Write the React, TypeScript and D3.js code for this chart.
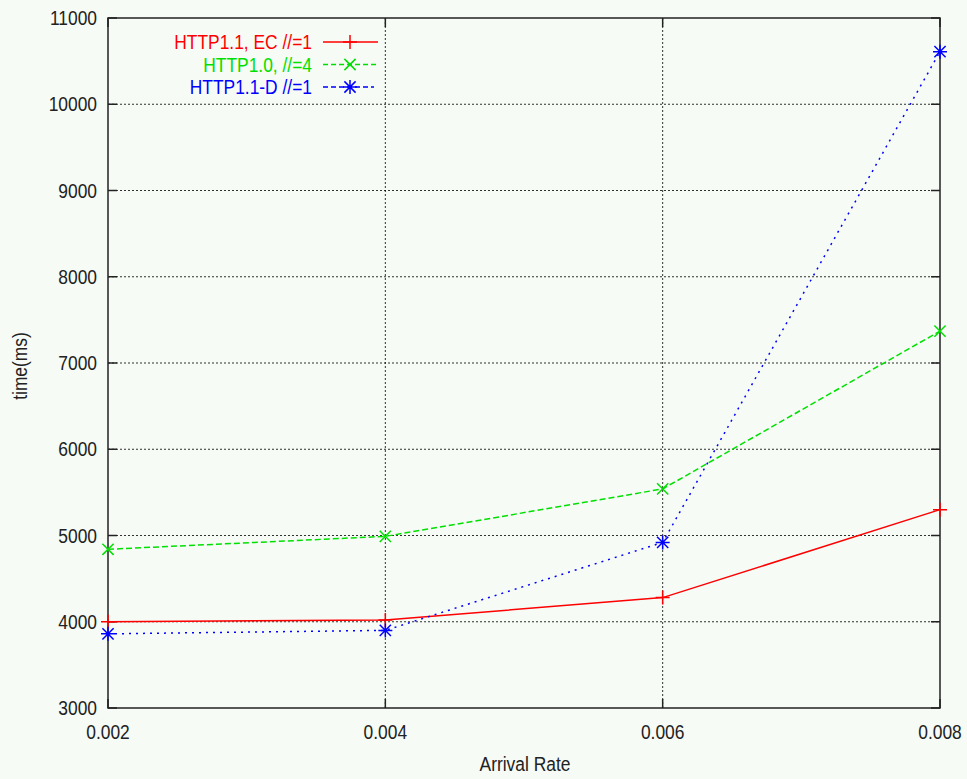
import React from "react";
import * as d3 from "d3";

const rates = [0.002, 0.004, 0.006, 0.008];
const http11ec = [4000, 4020, 4280, 5300];
const http10 = [4840, 4990, 5540, 7370];
const http11d = [3860, 3900, 4920, 10610];
const yTicks = [3000, 4000, 5000, 6000, 7000, 8000, 9000, 10000, 11000];
const xTickLabels = ["0.002", "0.004", "0.006", "0.008"];

const series = [
  { name: "HTTP1.1, EC //=1", values: http11ec, color: "#ff0000", dash: "", marker: "plus" },
  { name: "HTTP1.0, //=4", values: http10, color: "#00e000", dash: "6,3", marker: "cross" },
  { name: "HTTP1.1-D //=1", values: http11d, color: "#0000ff", dash: "2,5", marker: "star" },
];

const W = 967, H = 779;
const left = 108, right = 940, top = 18, bottom = 708;
const font = "'Liberation Sans', Arial, sans-serif";
const FS = 20;
const SX = 0.87;

// narrow text, like the gnuplot bitmap font
const T = ({ x, y, anchor, color, children, rotate }: any) => (
  <text
    transform={`translate(${x},${y})${rotate ? ` rotate(${rotate})` : ""} scale(${SX},1)`}
    textAnchor={anchor}
    fontSize={FS}
    fill={color || "#222"}
  >
    {children}
  </text>
);

const Marker = ({ x, y, kind, color }: { x: number; y: number; kind: string; color: string }) => {
  const s = 7;
  const plus = `M${x - s},${y}H${x + s}M${x},${y - s}V${y + s}`;
  const c = s * 0.8;
  const cross = `M${x - c},${y - c}L${x + c},${y + c}M${x - c},${y + c}L${x + c},${y - c}`;
  const d = kind === "plus" ? plus : kind === "cross" ? cross : plus + cross;
  return <path d={d} stroke={color} strokeWidth={1.5} fill="none" />;
};

export default function App() {
  const x = d3.scaleLinear().domain([0.002, 0.008]).range([left, right]);
  const y = d3.scaleLinear().domain([3000, 11000]).range([bottom, top]);
  const line = d3.line<[number, number]>().x((d) => x(d[0])).y((d) => y(d[1]));

  return (
    <svg width={W} height={H} style={{ position: "absolute", left: 0, top: 0 }} fontFamily={font}>
      <rect width={W} height={H} fill="#f6fbf6" />
      {yTicks.slice(1, -1).map((t) => (
        <line key={"gy" + t} x1={left} x2={right} y1={y(t)} y2={y(t)} stroke="#000" strokeWidth={1} strokeDasharray="2,2" opacity={0.8} />
      ))}
      {rates.slice(1, -1).map((t) => (
        <line key={"gx" + t} x1={x(t)} x2={x(t)} y1={top} y2={bottom} stroke="#000" strokeWidth={1} strokeDasharray="2,2" opacity={0.8} />
      ))}
      {yTicks.map((t) => (
        <g key={"ty" + t}>
          <line x1={left} x2={left + 9} y1={y(t)} y2={y(t)} stroke="#222" strokeWidth={1.5} />
          <line x1={right - 9} x2={right} y1={y(t)} y2={y(t)} stroke="#222" strokeWidth={1.5} />
          <T x={97} y={y(t) + 7} anchor="end">{t}</T>
        </g>
      ))}
      {rates.map((t, i) => (
        <g key={"tx" + t}>
          <line x1={x(t)} x2={x(t)} y1={bottom} y2={bottom - 9} stroke="#222" strokeWidth={1.5} />
          <line x1={x(t)} x2={x(t)} y1={top} y2={top + 9} stroke="#222" strokeWidth={1.5} />
          <T x={x(t)} y={bottom + 31} anchor="middle">{xTickLabels[i]}</T>
        </g>
      ))}
      <rect x={left} y={top} width={right - left} height={bottom - top} fill="none" stroke="#222" strokeWidth={1.5} />
      {series.map((s) => (
        <g key={s.name}>
          <path d={line(rates.map((r, i) => [r, s.values[i]]) as [number, number][]) || ""} fill="none" stroke={s.color} strokeWidth={1.5} strokeDasharray={s.dash} />
          {rates.map((r, i) => (
            <Marker key={r} x={x(r)} y={y(s.values[i])} kind={s.marker} color={s.color} />
          ))}
        </g>
      ))}
      {series.map((s, i) => {
        const ly = 42 + i * 22.5;
        return (
          <g key={"lg" + s.name}>
            <T x={312} y={ly + 7} anchor="end" color={s.color}>{s.name}</T>
            <line x1={323} x2={i === 2 ? 374 : 378} y1={ly} y2={ly} stroke={s.color} strokeWidth={1.5} strokeDasharray={s.dash === "" ? "" : "5,3"} />
            <Marker x={350} y={ly} kind={s.marker} color={s.color} />
          </g>
        );
      })}
      <T x={525} y={771} anchor="middle">Arrival Rate</T>
      <T x={27} y={366} anchor="middle" rotate={-90}>time(ms)</T>
    </svg>
  );
}
